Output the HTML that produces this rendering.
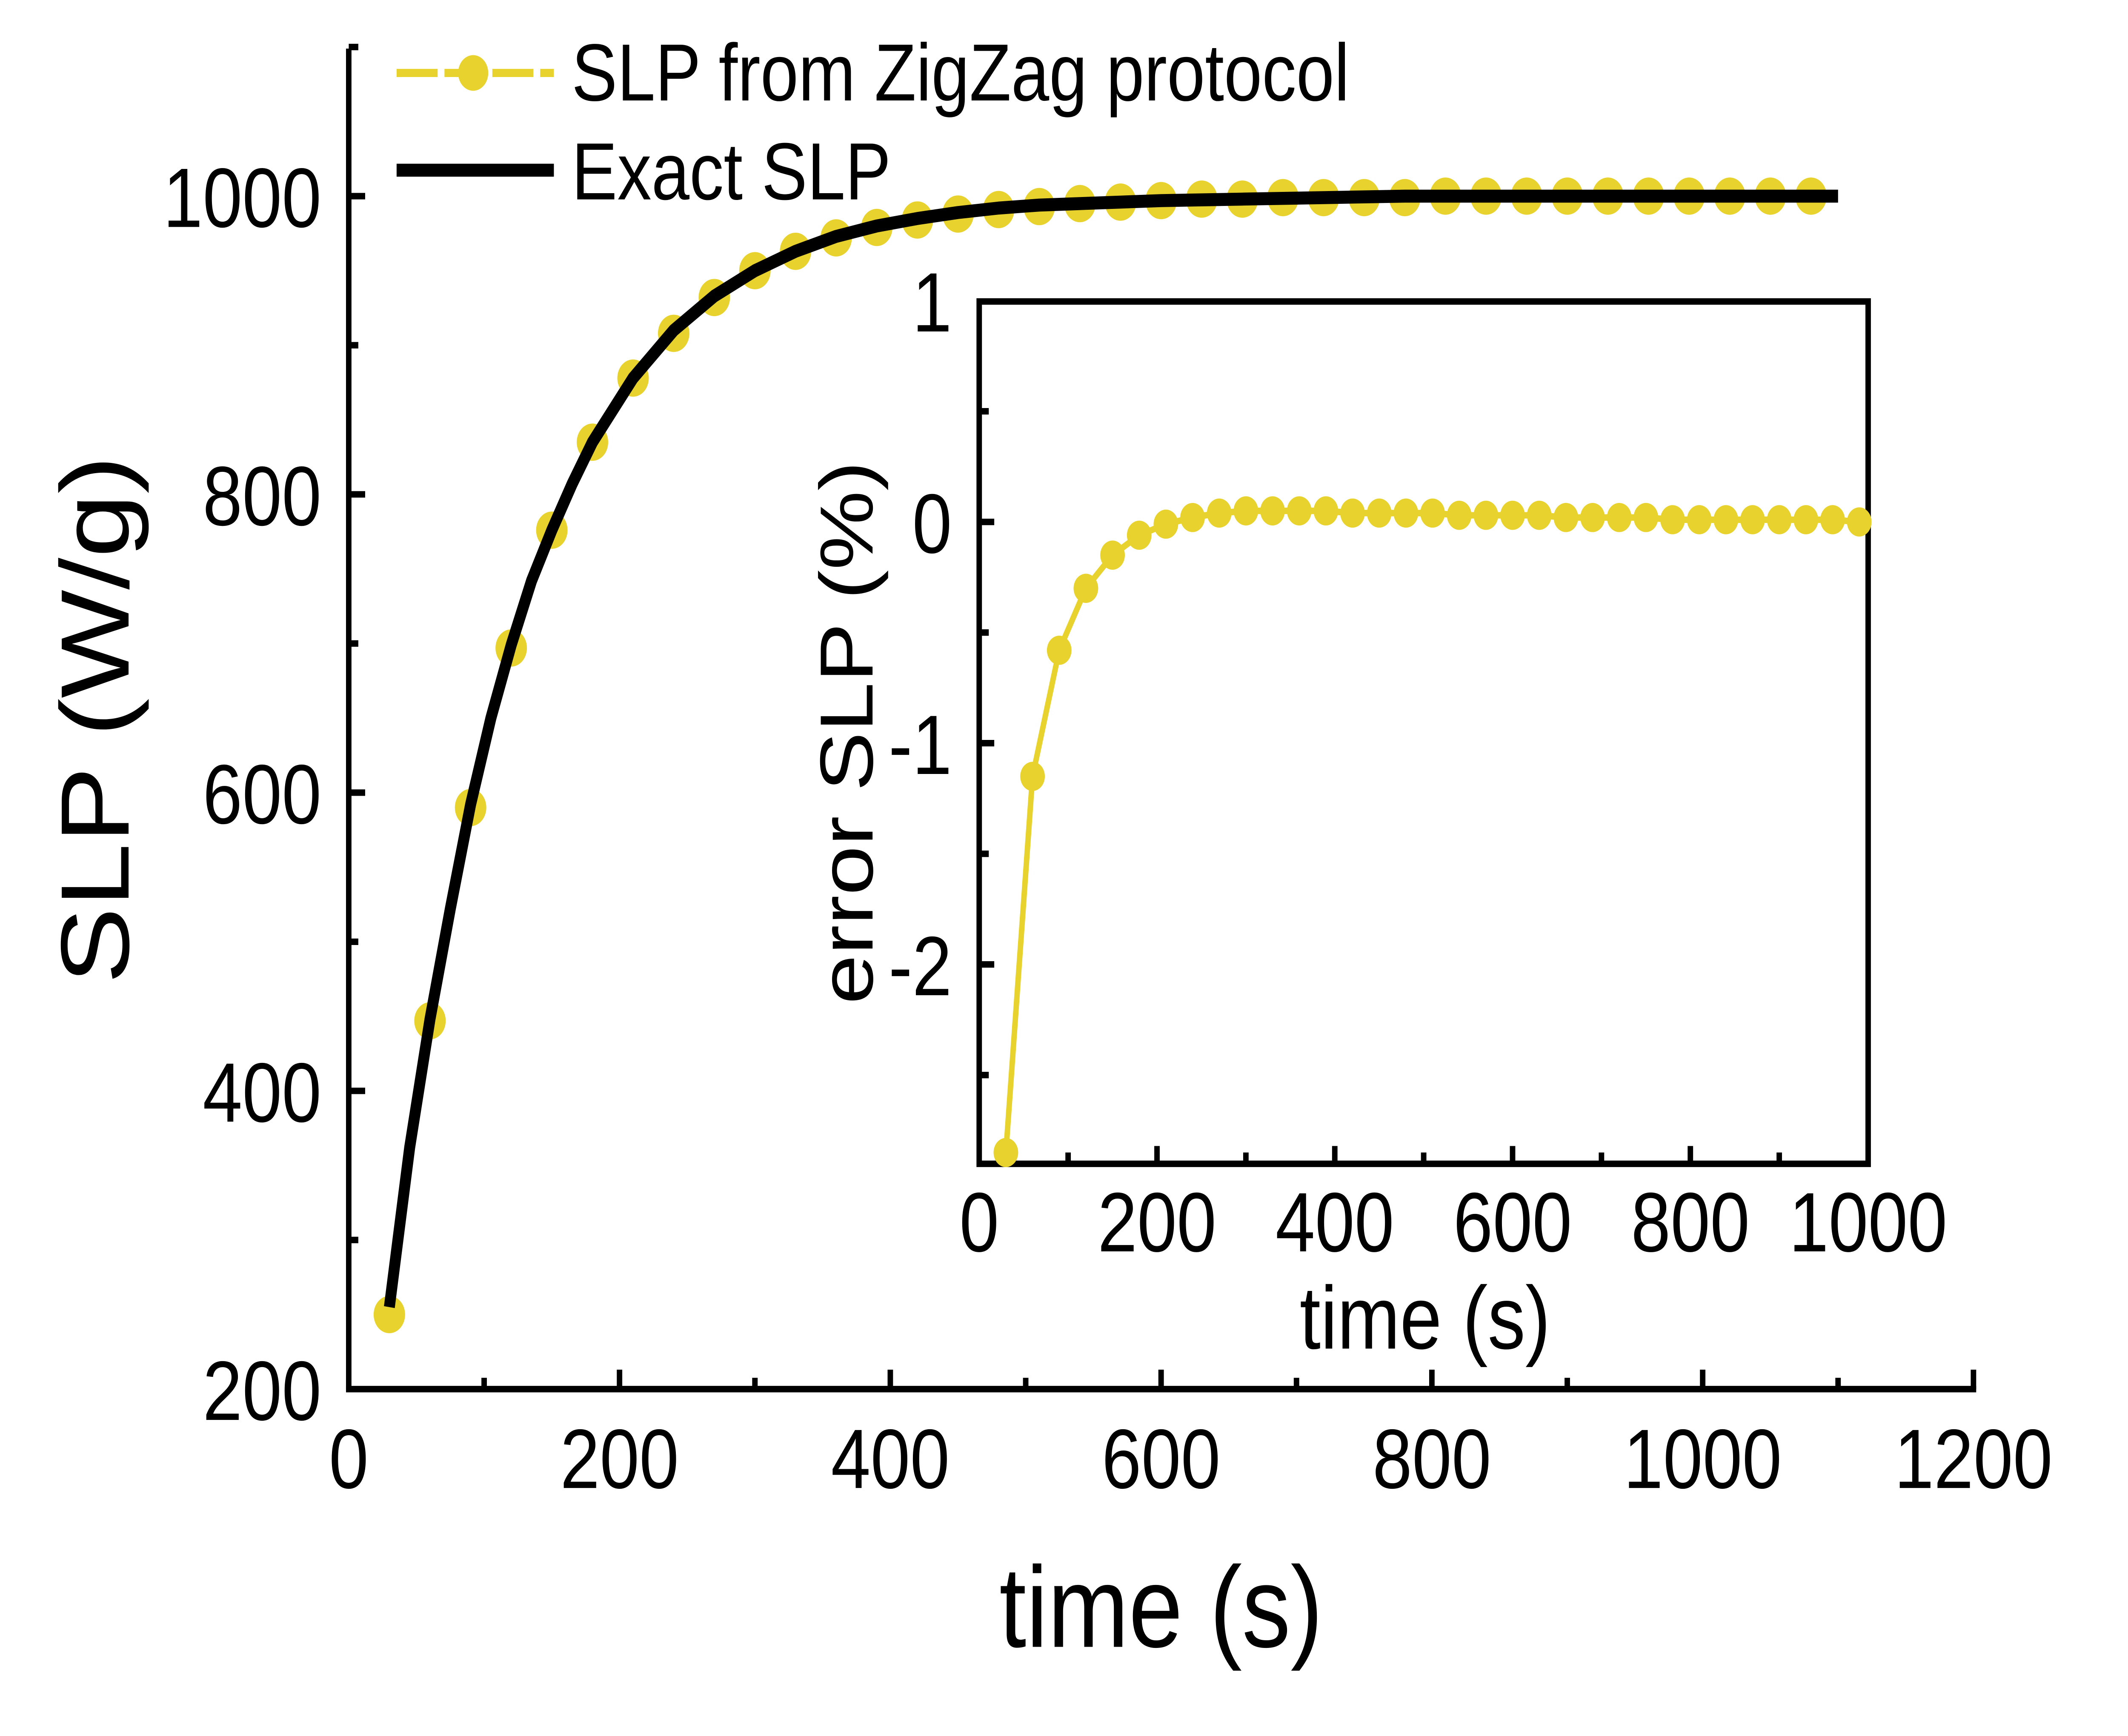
<!DOCTYPE html>
<html><head><meta charset="utf-8"><style>
html,body{margin:0;padding:0;background:#fff;width:100%;height:100%;overflow:hidden;}
svg{display:block;width:100vw;height:100vh;font-family:"Liberation Sans",Arial,sans-serif;}
</style></head><body>
<svg id="chart" viewBox="0 0 1556 1071" preserveAspectRatio="none" xmlns="http://www.w3.org/2000/svg">
<rect width="1556" height="1071" fill="#fff"/>
<g id="main"></g>
<g id="inset"></g>
<g id="legend">
  <line x1="290" y1="45" x2="405" y2="45" stroke="#E8D22E" stroke-width="5" stroke-dasharray="30,5"/>
  <circle cx="346" cy="45" r="11" fill="#E8D22E"/>
  <text x="418" y="62" font-size="50">SLP from ZigZag protocol</text>
  <line x1="290" y1="105" x2="405" y2="105" stroke="#000" stroke-width="8"/>
  <text x="418" y="123" font-size="50">Exact SLP</text>
</g>
</svg>
<script>
const mainTimes=[30,60,90,120,150,180,210,240,270,300,330,360,390,420,450,480,510,540,570,600,630,660,690,720,750,780,810,840,870,900,930,960,990,1020,1050,1080];
const zigzagSLP=[250,447,590,697,776,835,878,908,932,950,963,972,979,984,988,991,993,995,996,997,998,998,999,999,999,999,1000,1000,1000,1000,1000,1000,1000,1000,1000,1000];
const exactTimes=[30,45,60,75,90,105,120,135,150,165,180,210,240,270,300,330,360,390,420,450,480,510,540,570,600,660,720,780,840,900,960,1020,1100];
const exactSLP=[255,362,448,522,592,650,699,742,776,807,835,878,910,933,950,963,973,980,985,989,992,994,995,996,997,998,999,1000,1000,1000,1000,1000,1000];
const mainXTicks=[0,200,400,600,800,1000,1200];
const mainYTicks=[200,400,600,800,1000];
const insetTimes=[30,60,90,120,150,180,210,240,270,300,330,360,390,420,450,480,510,540,570,600,630,660,690,720,750,780,810,840,870,900,930,960,990];
const insetError=[-2.85,-1.15,-0.58,-0.3,-0.15,-0.06,-0.01,0.02,0.04,0.05,0.05,0.05,0.05,0.04,0.04,0.04,0.04,0.03,0.03,0.03,0.03,0.02,0.02,0.02,0.02,0.01,0.01,0.01,0.01,0.01,0.01,0.01,0.0];
const insetXTicks=[0,200,400,600,800,1000];
const insetYTicks=[1,0,-1,-2];

const NS="http://www.w3.org/2000/svg";
function mk(parent,tag,attrs,txt){const e=document.createElementNS(NS,tag);for(const k in attrs)e.setAttribute(k,attrs[k]);if(txt!==undefined)e.textContent=txt;parent.appendChild(e);return e;}
const YEL="#E8D22E";

const mx=t=>255+t*(1443-255)/1200;
const my=v=>857-(v-200)*(857-121)/800;
const g=document.getElementById('main');
let e=mk(g,'line',{x1:255,y1:30,x2:255,y2:857,stroke:'#000','stroke-width':4});


e=mk(g,'line',{x1:253,y1:857,x2:1445,y2:857,stroke:'#000','stroke-width':4});


for(let t=100;t<=1200;t+=100){const maj=t%200===0;mk(g,'line',{x1:mx(t),y1:857,x2:mx(t),y2:857-(maj?12:7),stroke:'#000','stroke-width':4});}
for(let v=300;v<=1100;v+=100){const maj=v%200===0;mk(g,'line',{x1:255,y1:my(v),x2:255+(maj?12:7),y2:my(v),stroke:'#000','stroke-width':4});}
mainXTicks.forEach(t=>{e=mk(g,'text',{x:mx(t),y:918,'font-size':52,'text-anchor':'middle'},String(t));

});
mainYTicks.forEach(v=>{e=mk(g,'text',{x:235,y:my(v)+19,'font-size':52,'text-anchor':'end'},String(v));

});
e=mk(g,'text',{x:849,y:1016,'font-size':71,'text-anchor':'middle'},'time (s)');


e=mk(g,'text',{x:0,y:0,'font-size':71,'text-anchor':'middle',transform:'translate(94,444) rotate(-90)'},'SLP (W/g)');


e=mk(g,'polyline',{points:mainTimes.map((t,i)=>mx(t)+','+my(zigzagSLP[i])).join(' '),fill:'none',stroke:YEL,'stroke-width':4});


mainTimes.forEach((t,i)=>{e=mk(g,'circle',{cx:mx(t),cy:my(zigzagSLP[i]),r:11.5,fill:YEL});

});
e=mk(g,'polyline',{points:exactTimes.map((t,i)=>mx(t)+','+my(exactSLP[i])).join(' '),fill:'none',stroke:'#000','stroke-width':8,'stroke-linejoin':'round'});



const ix=t=>716+t*(1366-716)/1000;
const iy=v=>322-v*136.5;
const h=document.getElementById('inset');
e=mk(h,'rect',{x:716,y:186,width:650,height:532,fill:'#fff',stroke:'#000','stroke-width':4});


for(let t=100;t<1000;t+=100){const maj=t%200===0;mk(h,'line',{x1:ix(t),y1:718,x2:ix(t),y2:718-(maj?11:7),stroke:'#000','stroke-width':4});}
for(let v=-2.5;v<1;v+=0.5){const maj=Math.abs(v%1)<1e-9;mk(h,'line',{x1:716,y1:iy(v),x2:716+(maj?11:7),y2:iy(v),stroke:'#000','stroke-width':4});}
insetXTicks.forEach(t=>{e=mk(h,'text',{x:ix(t),y:772,'font-size':52,'text-anchor':'middle'},String(t));

});
insetYTicks.forEach(v=>{e=mk(h,'text',{x:696,y:iy(v)+19,'font-size':52,'text-anchor':'end'},String(v));

});
e=mk(h,'text',{x:1042,y:832,'font-size':55,'text-anchor':'middle'},'time (s)');


e=mk(h,'text',{x:0,y:0,'font-size':55,'text-anchor':'middle',transform:'translate(638,452) rotate(-90)'},'error SLP (%)');


e=mk(h,'polyline',{points:insetTimes.map((t,i)=>ix(t)+','+iy(insetError[i])).join(' '),fill:'none',stroke:YEL,'stroke-width':4});


insetTimes.forEach((t,i)=>{e=mk(h,'circle',{cx:ix(t),cy:iy(insetError[i]),r:9,fill:YEL});

});
</script>
</body></html>
